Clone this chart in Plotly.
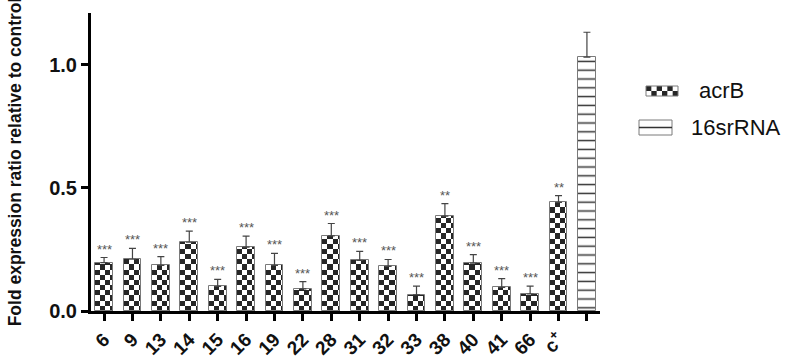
import math
import plotly.graph_objects as go

# ---------------- data ----------------
categories = ["6", "9", "13", "14", "15", "16", "19", "22", "28", "31", "32",
              "33", "38", "40", "41", "66", "c+", "16srRNA"]
tick_labels = ["6", "9", "13", "14", "15", "16", "19", "22", "28", "31", "32",
               "33", "38", "40", "41", "66", "c<sup>+</sup>", ""]
acrB_values = [0.196, 0.210, 0.185, 0.279, 0.100, 0.259, 0.185, 0.090, 0.305,
               0.205, 0.181, 0.066, 0.385, 0.194, 0.096, 0.069, 0.441]
acrB_errors = [0.021, 0.044, 0.036, 0.045, 0.028, 0.045, 0.049, 0.029, 0.050,
               0.037, 0.028, 0.035, 0.051, 0.035, 0.035, 0.032, 0.027]
acrB_signif = ["***", "***", "***", "***", "***", "***", "***", "***", "***",
               "***", "***", "***", "**", "***", "***", "***", "**"]
rrna_values = [1.030]
rrna_errors = [0.101]

# ---------------- style ----------------
FONT = "Liberation Sans, Arial, sans-serif"
BAR_W = 0.63
CELL_W = 0.18      # checker cell width (category units)
CELL_H = 0.021     # checker cell height (data units)
DARK = "#262626"
OUTLINE = "#7a7a7a"

n_acrB = len(acrB_values)
acrB_idx = list(range(n_acrB))
rrna_idx = list(range(n_acrB, len(categories)))

fig = go.Figure()

# checkerboard cells, one trace per column of cells
ncols = math.ceil(BAR_W / CELL_W - 1e-9)
for k in range(ncols):
    w = min(CELL_W, BAR_W - k * CELL_W)
    xs, bases, hs = [], [], []
    for i, v in zip(acrB_idx, acrB_values):
        nrows = math.ceil(v / CELL_H)
        for r in range(nrows):
            if (r + k) % 2 == 1:
                b = r * CELL_H
                xs.append(i)
                bases.append(b)
                hs.append(min(CELL_H, v - b))
    fig.add_trace(go.Bar(
        x=xs, y=hs, base=bases, width=w, offset=-BAR_W / 2 + k * CELL_W,
        marker=dict(color=DARK, line=dict(width=0)),
        showlegend=False, hoverinfo="skip"))

# acrB outline + error bars
fig.add_trace(go.Bar(
    x=acrB_idx, y=acrB_values, width=BAR_W, name="acrB",
    marker=dict(color="rgba(0,0,0,0)", line=dict(color=OUTLINE, width=1)),
    error_y=dict(type="data", symmetric=False, array=acrB_errors,
                 arrayminus=[0] * n_acrB, color="#444",
                 thickness=1.2, width=3.5),
    showlegend=False))

# 16srRNA bar
fig.add_trace(go.Bar(
    x=rrna_idx, y=rrna_values, width=BAR_W, name="16srRNA",
    marker=dict(color="white", line=dict(color=OUTLINE, width=1),
                pattern=dict(shape="-", size=8.8, solidity=0.17,
                             fgcolor="#333", bgcolor="white", fillmode="replace")),
    error_y=dict(type="data", symmetric=False, array=rrna_errors,
                 arrayminus=[0], color="#444", thickness=1.2, width=3.5),
    showlegend=False))

annotations = []
for i, v, e, s in zip(acrB_idx, acrB_values, acrB_errors, acrB_signif):
    annotations.append(dict(x=i, y=v + e, text=s, showarrow=False,
                            yanchor="bottom", yshift=-1,
                            font=dict(family=FONT, size=13, color="#555")))

# ---------------- custom legend (pixel -> paper) ----------------
PL, PR, PT, PB = 91, 600, 13, 311


def px(x):
    return (x - PL) / (PR - PL)


def py(y):
    return (PB - y) / (PB - PT)


shapes = []
# acrB swatch: checker 6 x 2
sx0, sx1, sy0, sy1 = 646, 678, 86, 96
nc, nr = 6, 2
cw = (sx1 - sx0) / nc
chh = (sy1 - sy0) / nr
for i in range(nc):
    for j in range(nr):
        if (i + j) % 2 == 0:
            shapes.append(dict(type="rect", xref="paper", yref="paper",
                               x0=px(sx0 + i * cw), x1=px(sx0 + (i + 1) * cw),
                               y0=py(sy0 + j * chh), y1=py(sy0 + (j + 1) * chh),
                               fillcolor=DARK, line=dict(width=0)))
shapes.append(dict(type="rect", xref="paper", yref="paper",
                   x0=px(sx0), x1=px(sx1), y0=py(sy0), y1=py(sy1),
                   line=dict(color=OUTLINE, width=1)))
# 16srRNA swatch
rx0, rx1, ry0, ry1 = 639, 672, 120, 135
shapes.append(dict(type="rect", xref="paper", yref="paper",
                   x0=px(rx0), x1=px(rx1), y0=py(ry0), y1=py(ry1),
                   fillcolor="white", line=dict(color=OUTLINE, width=1)))
shapes.append(dict(type="line", xref="paper", yref="paper",
                   x0=px(rx0), x1=px(rx1), y0=py((ry0 + ry1) / 2), y1=py((ry0 + ry1) / 2),
                   line=dict(color="#333", width=1.5)))

annotations.append(dict(xref="paper", yref="paper", x=px(697), y=py(90),
                        xanchor="left", yanchor="middle", text="acrB", showarrow=False,
                        font=dict(family=FONT, size=22, color="#111")))
annotations.append(dict(xref="paper", yref="paper", x=px(689), y=py(127),
                        xanchor="left", yanchor="middle", text="16srRNA", showarrow=False,
                        font=dict(family=FONT, size=22, color="#111")))

fig.update_layout(
    width=789, height=357,
    margin=dict(l=PL, r=789 - PR, t=PT, b=357 - PB, autoexpand=False),
    paper_bgcolor="white", plot_bgcolor="white",
    barmode="overlay", bargap=0,
    showlegend=False,
    annotations=annotations, shapes=shapes,
    font=dict(family=FONT, color="#111"),
)
fig.update_xaxes(
    tickmode="array", tickvals=list(range(len(categories))), ticktext=tick_labels,
    tickangle=-45, range=[-0.46, len(categories) - 0.54],
    showline=True, linecolor="black", linewidth=3,
    ticks="outside", ticklen=7, tickwidth=2.5, tickcolor="black",
    tickfont=dict(family=FONT, size=19, color="#111", weight="bold"),
    showgrid=False, zeroline=False, automargin=False,
)
fig.update_yaxes(
    range=[0, 1.209], tickvals=[0, 0.5, 1.0], tickformat=".1f",
    showline=True, linecolor="black", linewidth=3,
    ticks="outside", ticklen=7, tickwidth=2.5, tickcolor="black",
    tickfont=dict(family=FONT, size=20, color="#111", weight="bold"),
    title=dict(text="Fold expression ratio relative to control", standoff=24,
               font=dict(family=FONT, size=17.5, color="#111", weight="bold")),
    showgrid=False, zeroline=False, automargin=False,
)

fig.write_html("out.html",
               config={"displayModeBar": False},
               post_script="document.body.style.margin='0px';"
                           "document.body.style.overflow='hidden';")
